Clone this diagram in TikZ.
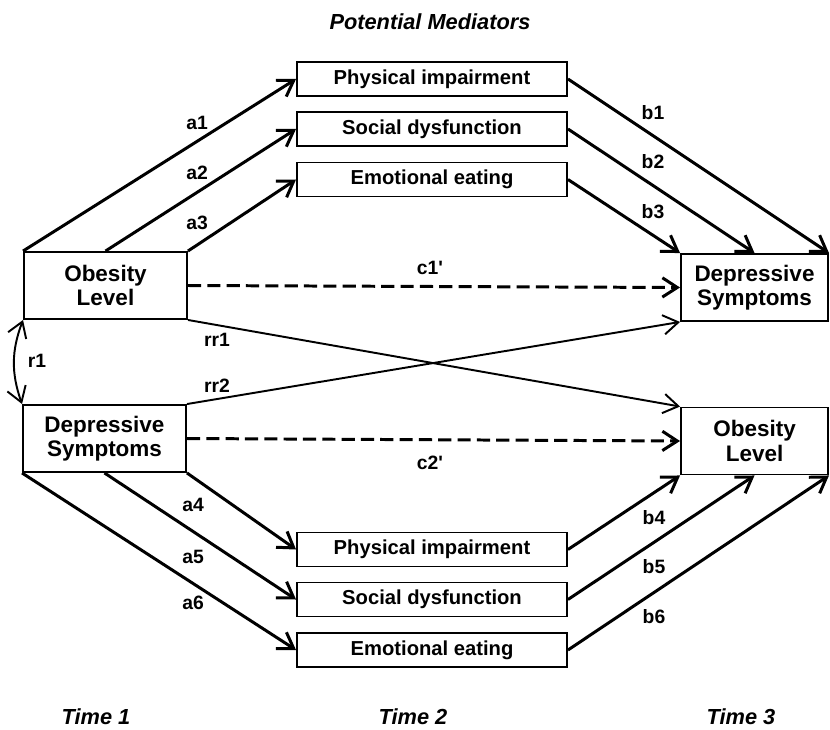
\documentclass[tikz,border=0pt]{standalone}
\usepackage{fontspec}
\setmainfont{Liberation Sans}
\usepackage{tikz}
\usetikzlibrary{
    arrows.meta,
    positioning
}
\begin{document}
\begin{tikzpicture}[x=0.02cm,y=-0.02cm,
    font=\bfseries,
    box/.style={draw,line width=1.1pt,inner sep=0pt,align=center},
    bigbox/.style={box,minimum height=67*0.02cm,font=\bfseries\fontsize{12.8}{14}\selectfont},
    medbox/.style={box,minimum width=270*0.02cm,minimum height=34*0.02cm,font=\bfseries\fontsize{11.5}{13}\selectfont},
    effect/.style={line width=1.7pt,-{Straight Barb[length=8.5pt,width=11pt,line width=1.7pt]}},
    thineffect/.style={line width=1.1pt,-{Straight Barb[length=8.5pt,width=11pt,line width=1.1pt]}},
    lbl/.style={font=\bfseries\fontsize{11}{12}\selectfont},
    heading/.style={font=\bfseries\itshape\fontsize{12.4}{14}\selectfont}
  ]
    \useasboundingbox (0,0) rectangle (830,729);
    \node[heading] (med) at (430,22) {Potential Mediators};
    \node[bigbox,minimum width=163*0.02cm] (ob1) at (105.5,285.5) {Obesity\\Level};
    \node[bigbox,minimum width=163*0.02cm] (dep1) at (104.5,438.5) {Depressive\\Symptoms};
    \node[bigbox,minimum width=147*0.02cm] (dep3) at (754.5,287.5) {Depressive\\Symptoms};
    \node[bigbox,minimum width=147*0.02cm] (ob3) at (754.5,441) {Obesity\\Level};
    \node[medbox] (pi1) at (432,79) {Physical impairment};
    \node[medbox] (sd1) at (432,129) {Social dysfunction};
    \node[medbox] (ee1) at (432,179.5) {Emotional eating};
    \node[medbox] (pi2) at (432,549.5) {Physical impairment};
    \node[medbox] (sd2) at (432,599.5) {Social dysfunction};
    \node[medbox] (ee2) at (432,650) {Emotional eating};
    \draw[effect] (ob1.north west) -- (pi1.west);
    \draw[effect] (ob1.north) -- (sd1.west);
    \draw[effect] (ob1.north east) -- (ee1.west);
    \draw[effect] (pi1.east) -- (dep3.north east);
    \draw[effect] (sd1.east) -- (dep3.north);
    \draw[effect] (ee1.east) -- (dep3.north west);
    \draw[effect,dash pattern=on 7.5pt off 3.5pt] (ob1.east) -- (dep3.west);
    \draw[effect,dash pattern=on 7.5pt off 3.5pt] (dep1.east) -- (ob3.west);
    \draw[thineffect] (ob1.south east) -- (ob3.north west);
    \draw[thineffect] (dep1.north east) -- (dep3.south west);
    \draw[thineffect,{Straight Barb[length=8.5pt,width=11pt,line width=1.1pt]}-{Straight Barb[length=8.5pt,width=11pt,line width=1.1pt]}] (ob1.south west) to[bend right=20] (dep1.north west);
    \draw[effect] (dep1.south east) -- (pi2.west);
    \draw[effect] (dep1.south) -- (sd2.west);
    \draw[effect] (dep1.south west) -- (ee2.west);
    \draw[effect] (pi2.east) -- (ob3.south west);
    \draw[effect] (sd2.east) -- (ob3.south);
    \draw[effect] (ee2.east) -- (ob3.south east);
    \node[lbl] (la1) at (197,123) {a1};
    \node[lbl] (la2) at (197,173) {a2};
    \node[lbl] (la3) at (197,223) {a3};
    \node[lbl] (lb1) at (653,113) {b1};
    \node[lbl] (lb2) at (653,162) {b2};
    \node[lbl] (lb3) at (653,212) {b3};
    \node[lbl] (lc1) at (430,268) {c1\textquotesingle};
    \node[lbl] (lrr1) at (217,340) {rr1};
    \node[lbl] (lr1) at (37,361) {r1};
    \node[lbl] (lrr2) at (217,386) {rr2};
    \node[lbl] (lc2) at (430,463) {c2\textquotesingle};
    \node[lbl] (la4) at (193,505) {a4};
    \node[lbl] (la5) at (193,557) {a5};
    \node[lbl] (la6) at (193,603) {a6};
    \node[lbl] (lb4) at (654,518) {b4};
    \node[lbl] (lb5) at (654,567) {b5};
    \node[lbl] (lb6) at (654,617) {b6};
    \node[heading] (t1) at (96,717) {Time 1};
    \node[heading] (t2) at (413,717) {Time 2};
    \node[heading] (t3) at (741,717) {Time 3};
\end{tikzpicture}
\end{document}
